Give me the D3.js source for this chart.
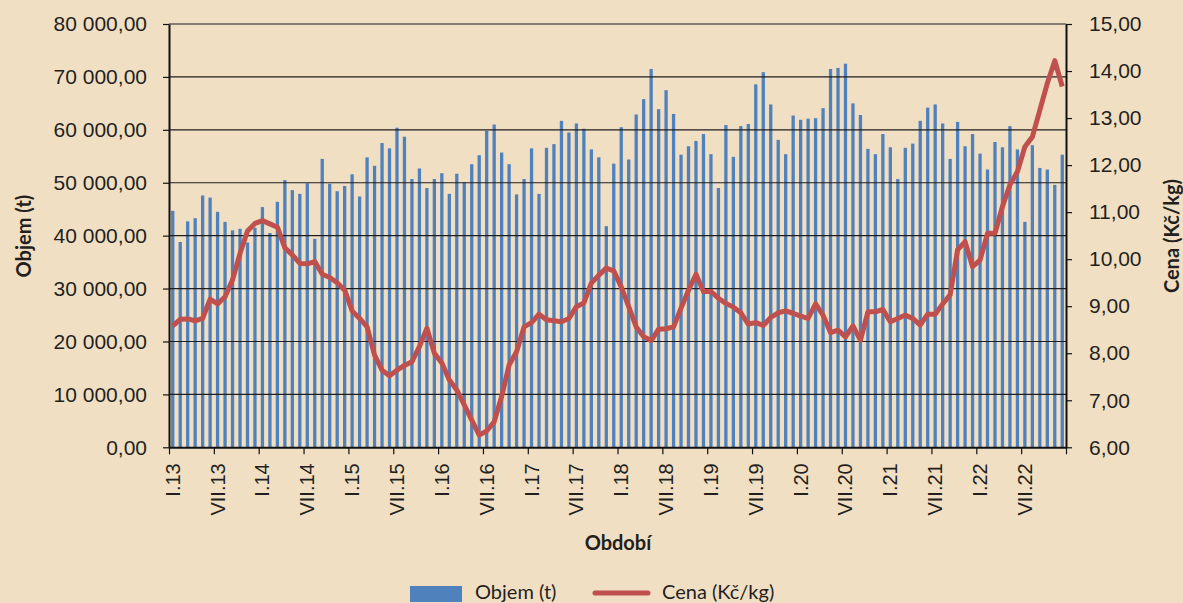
<!DOCTYPE html>
<html><head><meta charset="utf-8">
<script src="https://cdn.jsdelivr.net/npm/d3@7"></script>
<style>
html,body{margin:0;padding:0;background:#F1DFC4;}
svg{display:block;font-family:Lato,"Open Sans",sans-serif;}
</style></head><body>
<svg id="c" width="1183" height="603"></svg>
<script>
const months = ["I","II","III","IV","V","VI","VII","VIII","IX","X","XI","XII"];
const years = ["13","14","15","16","17","18","19","20","21","22"];
const categories = [];
years.forEach(y => months.forEach(m => categories.push(m + "." + y)));

const objem = [
44700,38800,42700,43300,47600,47200,44500,42600,41000,41300,38700,41500,
45400,40500,46400,50500,48600,47900,49900,39400,54500,49800,48400,49400,
51600,47400,54800,53200,57500,56500,60400,58700,50700,52700,49000,50700,
51800,47900,51700,50100,53500,55200,59800,61000,55700,53500,47800,50700,
56500,47900,56600,57300,61700,59500,61200,60200,56300,54800,41800,53600,
60500,54400,62900,65800,71500,63900,67500,63000,55300,56900,57900,59200,
55400,49000,60900,54900,60700,61100,68600,70900,64800,58100,55400,62700,
61900,62100,62200,64100,71500,71700,72500,65000,62800,56400,55400,59200,
56700,50700,56600,57400,61700,64200,64800,61200,54500,61500,56900,59200,
55500,52500,57700,56700,60700,56300,42600,57100,52800,52500,49600,55300
];
const cena = [
8.58,8.72,8.73,8.69,8.74,9.15,9.05,9.20,9.56,10.12,10.60,10.76,
10.82,10.75,10.68,10.24,10.09,9.91,9.90,9.95,9.68,9.61,9.50,9.34,
8.90,8.74,8.56,7.96,7.64,7.52,7.64,7.74,7.82,8.14,8.53,8.00,
7.79,7.43,7.22,6.90,6.58,6.26,6.35,6.54,7.08,7.75,8.03,8.56,
8.65,8.83,8.71,8.69,8.67,8.74,8.99,9.07,9.49,9.66,9.81,9.75,
9.41,8.99,8.56,8.35,8.27,8.51,8.52,8.56,8.96,9.34,9.68,9.31,
9.31,9.17,9.06,8.98,8.86,8.62,8.65,8.59,8.76,8.86,8.90,8.85,
8.79,8.74,9.05,8.81,8.44,8.49,8.35,8.58,8.28,8.88,8.88,8.93,
8.67,8.74,8.81,8.74,8.60,8.83,8.83,9.05,9.24,10.20,10.37,9.84,
9.98,10.55,10.55,11.12,11.58,11.86,12.39,12.60,13.17,13.74,14.22,13.67
];
const leftTicks = [0,10000,20000,30000,40000,50000,60000,70000,80000];
const rightTicks = [6,7,8,9,10,11,12,13,14,15];
const labelled = categories.filter((c,i) => i % 6 === 0);

const locale = d3.formatLocale({decimal:",", thousands:"\u00a0", grouping:[3], currency:["",""]});
const fmtL = locale.format(",.2f");
const fmtR = locale.format(".2f");

const L = 169, R = 1066, T = 24, B = 447.3;
const svg = d3.select("#c");

const x = d3.scaleBand().domain(categories).range([L, R]).paddingInner(0.56).paddingOuter(0.28);
const xi = d3.scaleLinear().domain([0, categories.length]).range([L, R]);
const yL = d3.scaleLinear().domain([0, 80000]).range([B, T]);
const yR = d3.scaleLinear().domain([6, 15]).range([B, T]);

// bars
svg.append("g").selectAll("rect").data(objem).join("rect")
  .attr("x", (d,i) => x(categories[i]))
  .attr("width", x.bandwidth())
  .attr("y", d => yL(d))
  .attr("height", d => B - yL(d))
  .attr("fill", "#4F81BD");

// gridlines
svg.append("g").selectAll("line").data(leftTicks.slice(1)).join("line")
  .attr("x1", L).attr("x2", R)
  .attr("y1", d => yL(d)).attr("y2", d => yL(d))
  .attr("stroke", "#1e1e1e").attr("stroke-width", 1.2);

// line
svg.append("path").datum(cena)
  .attr("fill", "none").attr("stroke", "#C0504D").attr("stroke-width", 5)
  .attr("stroke-linejoin", "round")
  .attr("d", d3.line().x((d,i) => x(categories[i]) + x.bandwidth()/2).y(d => yR(d)));

// left axis
const gl = svg.append("g").attr("transform", `translate(${L},0)`)
  .call(d3.axisLeft(yL).tickValues(leftTicks).tickFormat(fmtL).tickSize(6).tickSizeOuter(0));
gl.select(".domain").attr("stroke", "#111").attr("stroke-width", 2);
gl.selectAll(".tick line").attr("stroke", "#111").attr("stroke-width", 1.2);
gl.selectAll(".tick text").attr("font-size", 21).attr("fill", "#231f20").attr("x", -22);

// right axis
const gr = svg.append("g").attr("transform", `translate(${R},0)`)
  .call(d3.axisRight(yR).tickValues(rightTicks).tickFormat(fmtR).tickSize(6).tickSizeOuter(0));
gr.select(".domain").attr("stroke", "#111").attr("stroke-width", 2);
gr.selectAll(".tick line").attr("stroke", "#111").attr("stroke-width", 1.2);
gr.selectAll(".tick text").attr("font-size", 21).attr("fill", "#231f20").attr("x", 23);

// x axis tick marks
const gx = svg.append("g").attr("transform", `translate(0,${B})`)
  .call(d3.axisBottom(xi).tickValues(d3.range(0, categories.length + 1, 6)).tickFormat("").tickSize(7).tickSizeOuter(0));
gx.select(".domain").attr("stroke", "#111").attr("stroke-width", 2);
gx.selectAll(".tick line").attr("stroke", "#111").attr("stroke-width", 1.2);

// x axis labels
const gxl = svg.append("g").attr("transform", `translate(0,${B})`)
  .call(d3.axisBottom(x).tickValues(labelled).tickSize(0));
gxl.select(".domain").remove();
gxl.selectAll(".tick text")
  .attr("font-size", 20).attr("fill", "#231f20")
  .attr("transform", "rotate(-90)")
  .attr("text-anchor", "end")
  .attr("x", -16).attr("y", 0).attr("dy", "0.35em");

// axis titles
svg.append("text").attr("transform", "translate(31,236) rotate(-90)")
  .attr("text-anchor", "middle").attr("font-size", 20).attr("font-weight", "bold").attr("fill", "#231f20")
  .text("Objem (t)");
svg.append("text").attr("transform", "translate(1179,236) rotate(-90)")
  .attr("text-anchor", "middle").attr("font-size", 20).attr("font-weight", "bold").attr("fill", "#231f20")
  .text("Cena (Kč/kg)");
svg.append("text").attr("x", 618).attr("y", 550)
  .attr("text-anchor", "middle").attr("font-size", 20).attr("font-weight", "bold").attr("fill", "#231f20")
  .text("Období");

// legend
const lg = svg.append("g");
lg.append("rect").attr("x", 410).attr("y", 586).attr("width", 52).attr("height", 16).attr("fill", "#4F81BD");
lg.append("text").attr("x", 475).attr("y", 599).attr("font-size", 20).attr("fill", "#231f20").text("Objem (t)");
lg.append("line").attr("x1", 595).attr("x2", 648).attr("y1", 593).attr("y2", 593)
  .attr("stroke", "#C0504D").attr("stroke-width", 5).attr("stroke-linecap", "round");
lg.append("text").attr("x", 662).attr("y", 599).attr("font-size", 20).attr("fill", "#231f20").text("Cena (Kč/kg)");
</script>
</body></html>
